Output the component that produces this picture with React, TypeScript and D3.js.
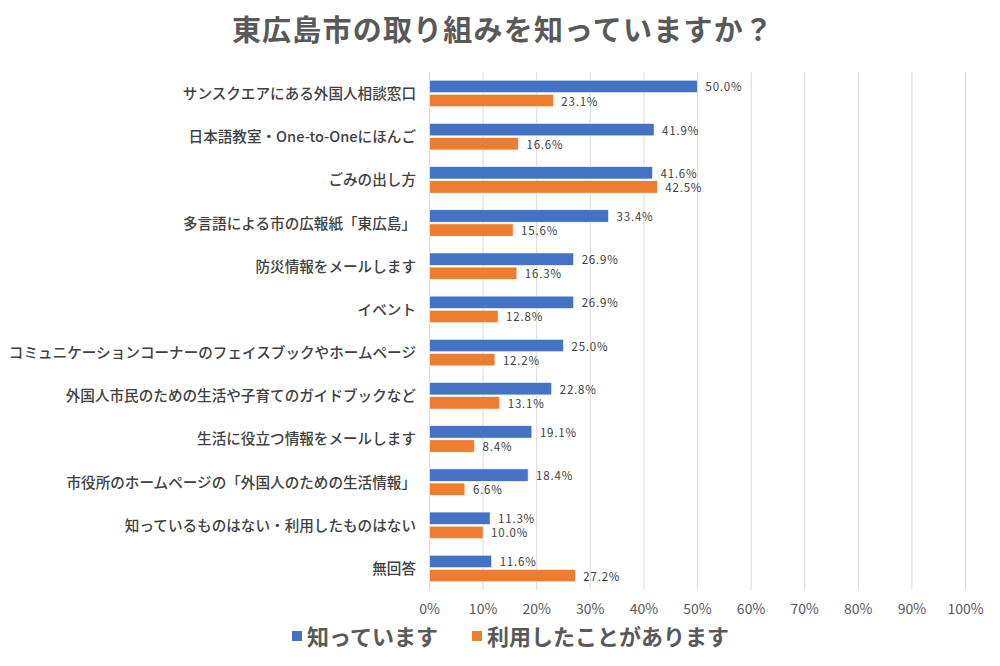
import React from "react";
import * as d3 from "d3";

const categories = [
  "サンスクエアにある外国人相談窓口",
  "日本語教室・One-to-Oneにほんご",
  "ごみの出し方",
  "多言語による市の広報紙「東広島」",
  "防災情報をメールします",
  "イベント",
  "コミュニケーションコーナーのフェイスブックやホームページ",
  "外国人市民のための生活や子育てのガイドブックなど",
  "生活に役立つ情報をメールします",
  "市役所のホームページの「外国人のための生活情報」",
  "知っているものはない・利用したものはない",
  "無回答",
];
const knowValues = [50.0, 41.9, 41.6, 33.4, 26.9, 26.9, 25.0, 22.8, 19.1, 18.4, 11.3, 11.6];
const usedValues = [23.1, 16.6, 42.5, 15.6, 16.3, 12.8, 12.2, 13.1, 8.4, 6.6, 10.0, 27.2];
const seriesNames = ["知っています", "利用したことがあります"];
const ticks = [0, 10, 20, 30, 40, 50, 60, 70, 80, 90, 100];
const title = "東広島市の取り組みを知っていますか？";

const COLORS = ["#4472C4", "#ED7D31"];
const FONT = "'Noto Sans CJK JP', 'Noto Sans', sans-serif";

export default function App() {
  const W = 1000, H = 666;
  const left = 429.5, right = 965.5, top = 72, bottom = 590;
  const x = d3.scaleLinear().domain([0, 100]).range([left, right]);
  const y = d3.scaleBand().domain(categories).range([top, bottom]).paddingInner(0.385).paddingOuter(0.19);
  const inner = d3.scaleBand().domain(["0", "1"]).range([0, y.bandwidth()]).paddingInner(0.12);
  const series = [knowValues, usedValues];

  return (
    <svg width={W} height={H} style={{ position: "absolute", left: 0, top: 0, background: "#fff" }}>
      <rect width={W} height={H} fill="#fff" />
      <text x={503} y={41} textAnchor="middle" fontFamily={FONT} fontSize={29} fontWeight="bold" fill="#595959" letterSpacing={1.2}>
        {title}
      </text>
      {ticks.map((t) => (
        <g key={t}>
          <line x1={x(t)} x2={x(t)} y1={top} y2={bottom} stroke="#d9d9d9" strokeWidth={1} />
          <text x={x(t)} y={614} textAnchor="middle" fontFamily={FONT} fontSize={14} fill="#595959">
            {t}%
          </text>
        </g>
      ))}
      {categories.map((c, i) => {
        const y0 = y(c)!;
        return (
          <g key={c}>
            <text x={416} y={y0 + y.bandwidth() / 2 - 1} textAnchor="end" dominantBaseline="central" fontFamily={FONT} fontSize={14.6} fontWeight={500} fill="#404040">
              {c}
            </text>
            {series.map((vals, s) => {
              const by = y0 + inner(String(s))!;
              const bh = inner.bandwidth();
              return (
                <g key={s}>
                  <rect x={x(0)} y={by} width={x(vals[i]) - x(0)} height={bh} fill={COLORS[s]} stroke="#fff" strokeWidth={0.6} />
                  <text x={x(vals[i]) + 8} y={by + bh / 2} dominantBaseline="central" fontFamily={FONT} fontSize={11.5} fill="#404040" letterSpacing={0.8}>
                    {vals[i].toFixed(1)}%
                  </text>
                </g>
              );
            })}
          </g>
        );
      })}
      <g>
        <rect x={292} y={631} width={10} height={10} fill={COLORS[0]} />
        <text x={307} y={645} fontFamily={FONT} fontSize={22} fontWeight="bold" fill="#595959">{seriesNames[0]}</text>
        <rect x={472} y={631} width={10} height={10} fill={COLORS[1]} />
        <text x={487} y={645} fontFamily={FONT} fontSize={22} fontWeight="bold" fill="#595959">{seriesNames[1]}</text>
      </g>
    </svg>
  );
}
